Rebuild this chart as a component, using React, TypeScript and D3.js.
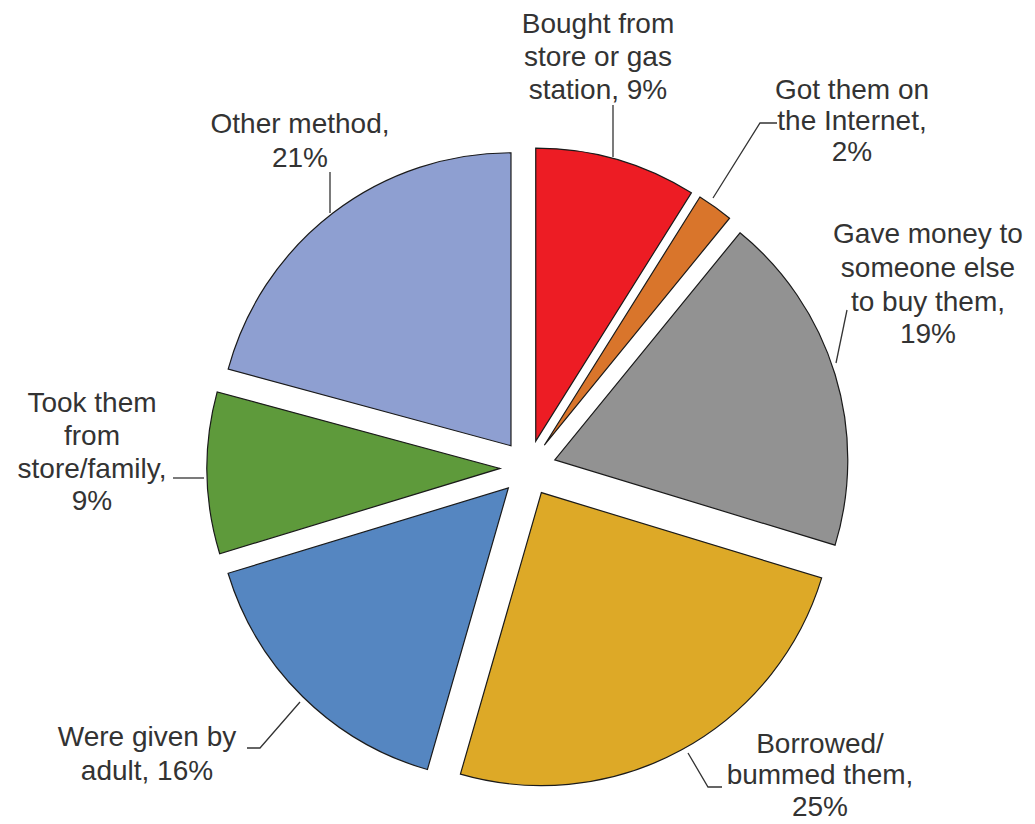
import React from "react";
import * as d3 from "d3";

const categories = [
  "Bought from store or gas station",
  "Got them on the Internet",
  "Gave money to someone else to buy them",
  "Borrowed/bummed them",
  "Were given by adult",
  "Took them from store/family",
  "Other method",
];
const values = [9, 2, 19, 25, 16, 9, 21];
const colors = ["#ED1C24", "#D9752B", "#929292", "#DDA927", "#5586C1", "#5E9A3B", "#8E9FD1"];
const labelLines = [
  ["Bought from", "store or gas", "station, 9%"],
  ["Got them on", "the Internet,", "2%"],
  ["Gave money to", "someone else", "to buy them,", "19%"],
  ["Borrowed/", "bummed them,", "25%"],
  ["Were given by", "adult, 16%"],
  ["Took them", "from", "store/family,", "9%"],
  ["Other method,", "21%"],
];

// layout (positions only)
const W = 1035, H = 824;
const CX = 528, CY = 468, R = 293, EXPLODE = 28;
const labelPos: { x: number; ys: number[] }[] = [
  { x: 598, ys: [33, 66, 99] },
  { x: 852, ys: [99, 130, 161] },
  { x: 928, ys: [243, 277, 311, 343] },
  { x: 820, ys: [753, 784, 816] },
  { x: 147, ys: [746, 780] },
  { x: 92, ys: [412, 445, 478, 510] },
  { x: 300, ys: [133, 167] },
];
const leaders: [number, number][][] = [
  [[613, 105], [613, 157]],
  [[777, 123], [760, 123], [713, 198]],
  [[847, 310], [836, 363]],
  [[688, 753], [708, 787], [722, 787]],
  [[247, 748], [260, 748], [300, 702]],
  [[173, 478], [204, 478]],
  [[330, 172], [330, 213]],
];

export default function App() {
  const data = categories.map((c, i) => ({ c, v: values[i], i }));
  const pie = d3.pie<any>().sort(null).value((d) => d.v);
  const arcs = pie(data);
  const arc = d3.arc<any>().innerRadius(0).outerRadius(R);
  const line = d3.line();
  return (
    <div style={{ position: "absolute", left: 0, top: 0 }}>
      <svg width={W} height={H} style={{ display: "block", background: "#fff" }}>
        <g transform={`translate(${CX},${CY})`}>
          {arcs.map((a, i) => {
            const mid = (a.startAngle + a.endAngle) / 2;
            const dx = Math.sin(mid) * EXPLODE;
            const dy = -Math.cos(mid) * EXPLODE;
            return (
              <path
                key={i}
                d={arc(a) || ""}
                transform={`translate(${dx},${dy})`}
                fill={colors[i]}
                stroke="#1a1a1a"
                strokeWidth={1.2}
                strokeLinejoin="miter"
              />
            );
          })}
        </g>
        {leaders.map((pts, i) => (
          <path key={i} d={line(pts) || ""} fill="none" stroke="#333" strokeWidth={1.3} />
        ))}
        <g fontFamily="'Liberation Sans', Arial, sans-serif" fontSize={28} fill="#333" textAnchor="middle">
          {labelLines.map((lines, i) =>
            lines.map((t, j) => (
              <text key={`${i}-${j}`} x={labelPos[i].x} y={labelPos[i].ys[j]}>
                {t}
              </text>
            ))
          )}
        </g>
      </svg>
    </div>
  );
}
